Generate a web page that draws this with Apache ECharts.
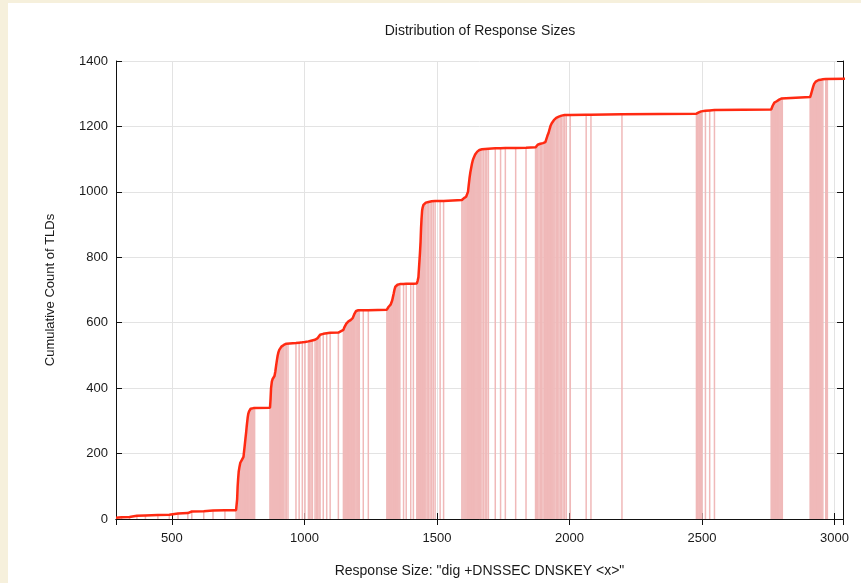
<!DOCTYPE html>
<html>
<head>
<meta charset="utf-8">
<title>Distribution of Response Sizes</title>
<script src="https://cdn.jsdelivr.net/npm/echarts@6/dist/echarts.min.js"></script>
<style>
  html, body { margin: 0; padding: 0; background: #f6f0dc; }
  #chart { position: absolute; left: 8px; top: 3px; width: 853px; height: 580px; background: #ffffff; }
</style>
</head>
<body>
<div id="chart"></div>
<script>
// response size (bytes) and cumulative TLD count at that size
const sizes = [
  289, 310, 340, 368, 400, 447, 490, 523, 560, 575, 620, 655, 700, 742,
  744, 746, 748, 750, 752, 755, 758, 761, 764, 767, 770, 772, 774, 776, 778, 780, 782, 784, 786, 788, 791, 794, 797, 800, 804, 808, 812,
  870, 872, 874, 877, 880, 884, 887, 890, 893, 896, 899, 902, 905, 909, 913, 917, 922, 927, 932, 938,
  968, 980, 992, 1002, 1015, 1020, 1025, 1030, 1040, 1045, 1050, 1055, 1059, 1071, 1084, 1097, 1128,
  1147, 1150, 1154, 1158, 1162, 1166, 1170, 1174, 1178, 1182, 1185, 1188, 1191, 1195, 1199, 1203, 1207, 1222, 1241,
  1311, 1314, 1317, 1321, 1325, 1328, 1331, 1334, 1337, 1340, 1343, 1347, 1351, 1356, 1360, 1374, 1384, 1401, 1411,
  1424, 1427, 1430, 1432, 1434, 1436, 1438, 1440, 1442, 1444, 1446, 1449, 1453, 1458, 1463, 1468, 1474, 1480, 1486, 1493, 1512, 1525,
  1594, 1598, 1602, 1606, 1610, 1614, 1617, 1620, 1623, 1626, 1629, 1632, 1635, 1638, 1641, 1644, 1648, 1652, 1656, 1660, 1665, 1670, 1676, 1682, 1688, 1694,
  1720, 1740, 1758, 1797, 1836,
  1872, 1876, 1880, 1885, 1890, 1895, 1900, 1905, 1909, 1913, 1917, 1921, 1925, 1929, 1933, 1937, 1941, 1945, 1950, 1955, 1960, 1965, 1970, 1976, 1982, 1988,
  2003, 2063, 2081, 2198,
  2479, 2482, 2485, 2488, 2491, 2494, 2497, 2500, 2513, 2529, 2547,
  2761, 2764, 2767, 2770, 2773, 2776, 2779, 2782, 2785, 2788, 2791, 2795, 2799, 2803,
  2908, 2911, 2914, 2917, 2920, 2923, 2926, 2929, 2932, 2936, 2940, 2944, 2948, 2952, 2956, 2967, 2970, 2973, 3040
];
const counts = [
  4, 5, 6, 10, 11, 12, 13, 17, 18, 23, 24, 26, 27, 27,
  30, 60, 100, 125, 145, 160, 172, 178, 181, 184, 190, 205, 220, 235, 250, 265, 282, 297, 311, 321, 329, 334, 337, 338, 339, 339, 339,
  340, 365, 400, 420, 428, 432, 437, 450, 468, 485, 500, 510, 517, 522, 527, 530, 532, 534, 536, 537,
  538, 539, 540, 541, 543, 544, 545, 546, 548, 550, 553, 558, 563, 566, 568, 569, 570,
  578, 585, 591, 597, 601, 604, 606, 608, 610, 614, 620, 626, 632, 636, 637, 638, 638, 638, 638,
  640, 644, 648, 652, 655, 660, 668, 679, 690, 702, 710, 714, 716, 717, 718, 718, 719, 719, 719,
  720, 728, 739, 765, 790, 815, 845, 890, 920, 943, 952, 960, 964, 967, 968, 969, 970, 971, 972, 972, 972, 972,
  975, 978, 981, 984, 985, 988, 1000, 1022, 1043, 1060, 1073, 1086, 1096, 1103, 1109, 1114, 1119, 1123, 1126, 1128, 1129, 1130, 1131, 1131, 1132, 1132,
  1133, 1133, 1134, 1134, 1135,
  1136, 1140, 1144, 1146, 1147, 1148, 1149, 1150, 1152, 1162, 1172, 1180, 1192, 1203, 1210, 1215, 1219, 1223, 1226, 1228, 1230, 1232, 1233, 1234, 1235, 1235,
  1235, 1236, 1236, 1237,
  1239, 1240, 1242, 1243, 1244, 1245, 1246, 1246, 1248, 1249, 1250,
  1252, 1258, 1264, 1269, 1273, 1275, 1276, 1277, 1279, 1281, 1282, 1284, 1285, 1287,
  1290, 1297, 1306, 1315, 1323, 1330, 1334, 1337, 1339, 1341, 1342, 1343, 1343, 1344, 1344, 1345, 1345, 1346, 1346
];
const yTicks = [0, 200, 400, 600, 800, 1000, 1200, 1400];

const points = sizes.map((s, i) => [s, counts[i]]);

const chart = echarts.init(document.getElementById('chart'));
const font = 'Liberation Sans, Arial, Helvetica, sans-serif';
const gridColor = '#e3e3e3';

const option = {
  animation: false,
  title: {
    text: 'Distribution of Response Sizes',
    left: 472,
    top: 21,
    padding: 0,
    textAlign: 'center',
    textStyle: { fontFamily: font, fontSize: 14, fontWeight: 'normal', color: '#1a1a1a' }
  },
  grid: { left: 108, right: 18, top: 58, bottom: 62 },
  xAxis: [
    {
      type: 'value',
      min: 289,
      max: 3032,
      splitNumber: 5,
      minInterval: 500,
      maxInterval: 500,
      name: 'Response Size: "dig +DNSSEC DNSKEY <x>"',
      nameLocation: 'middle',
      nameGap: 45,
      nameTextStyle: { fontFamily: font, fontSize: 14, color: '#1a1a1a' },
      axisLine: { show: true, lineStyle: { color: '#111', width: 1 } },
      axisTick: { show: true, inside: true, length: 6, lineStyle: { color: '#111' } },
      axisLabel: {
        fontFamily: font, fontSize: 13, color: '#1a1a1a', margin: 13,
        showMinLabel: false, showMaxLabel: false,
        formatter: v => String(v)
      },
      splitLine: { show: true, lineStyle: { color: gridColor, width: 1 } }
    },
    {
      type: 'value',
      position: 'top',
      min: 289,
      max: 3032,
      splitNumber: 5,
      minInterval: 500,
      maxInterval: 500,
      axisLine: { show: true, lineStyle: { color: '#111', width: 1 } },
      axisTick: { show: true, inside: true, length: 6, lineStyle: { color: '#111' } },
      axisLabel: { show: false },
      splitLine: { show: false }
    }
  ],
  yAxis: [
    {
      type: 'value',
      min: 0,
      max: 1400,
      interval: 200,
      name: 'Cumulative Count of TLDs',
      nameLocation: 'middle',
      nameGap: 59,
      nameTextStyle: { fontFamily: font, fontSize: 13, color: '#1a1a1a' },
      axisLine: { show: true, lineStyle: { color: '#111', width: 1 } },
      axisTick: { show: true, inside: true, length: 6, lineStyle: { color: '#111' } },
      axisLabel: {
        fontFamily: font, fontSize: 13, color: '#1a1a1a', margin: 8,
        formatter: v => (yTicks.includes(v) ? String(v) : '')
      },
      splitLine: { show: true, lineStyle: { color: gridColor, width: 1 } }
    },
    {
      type: 'value',
      position: 'right',
      min: 0,
      max: 1400,
      interval: 200,
      axisLine: { show: true, lineStyle: { color: '#111', width: 1 } },
      axisTick: { show: true, inside: true, length: 6, lineStyle: { color: '#111' } },
      axisLabel: { show: false },
      splitLine: { show: false }
    }
  ],
  series: [
    {
      // impulses down to zero
      type: 'custom',
      xAxisIndex: 0,
      yAxisIndex: 0,
      clip: true,
      encode: { x: 0, y: 1 },
      data: points,
      renderItem: (params, api) => {
        const top = api.coord([api.value(0), api.value(1)]);
        const base = api.coord([api.value(0), 0]);
        return {
          type: 'line',
          shape: { x1: top[0], y1: top[1], x2: base[0], y2: base[1] },
          style: { stroke: '#f0b9b9', lineWidth: 1.5 }
        };
      },
      z: 2
    },
    {
      type: 'line',
      xAxisIndex: 0,
      yAxisIndex: 0,
      data: points,
      showSymbol: false,
      symbol: 'none',
      clip: true,
      lineStyle: { color: '#ff2a12', width: 2.5 },
      z: 3
    }
  ]
};

chart.setOption(option);
</script>
</body>
</html>
